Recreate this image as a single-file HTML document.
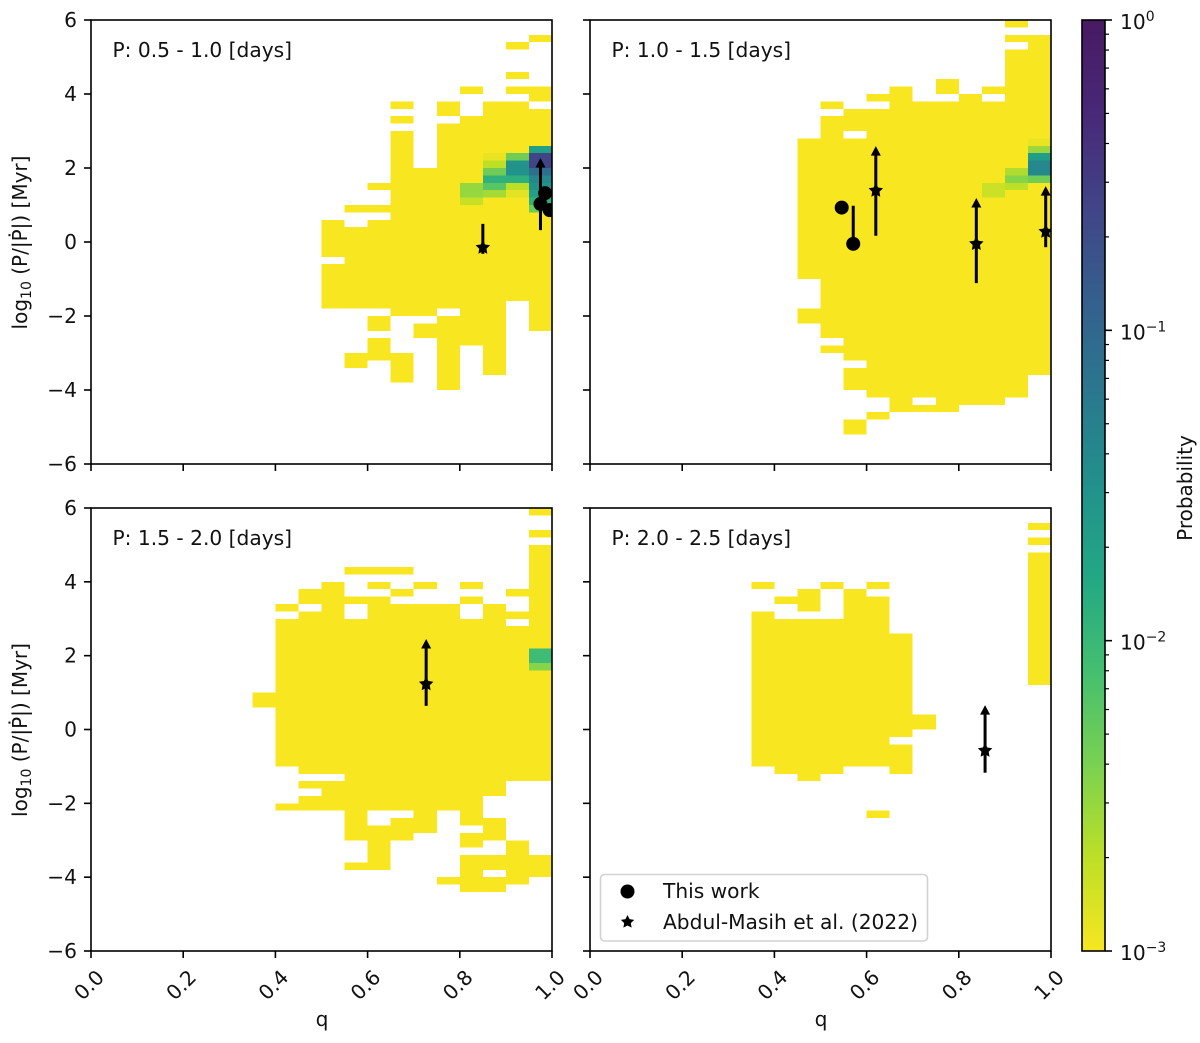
<!DOCTYPE html>
<html>
<head>
<meta charset="utf-8">
<title>Probability maps of period change</title>
<style>
html,body{margin:0;padding:0;background:#fff;}
svg{display:block;font-family:"DejaVu Sans","Liberation Sans",sans-serif;filter:blur(0.35px);}
text{fill:#111;font-size:20.2px;}
</style>
</head>
<body>
<svg id="chart" xmlns="http://www.w3.org/2000/svg" width="1200" height="1043" viewBox="0 0 1200 1043">
<defs>
<clipPath id="clip-0"><rect x="91" y="20" width="461" height="444"/></clipPath>
<clipPath id="clip-1"><rect x="590" y="20" width="461" height="444"/></clipPath>
<clipPath id="clip-2"><rect x="91" y="508" width="461" height="443"/></clipPath>
<clipPath id="clip-3"><rect x="590" y="508" width="461" height="443"/></clipPath>
<linearGradient id="cbar-gradient" x1="0" y1="1" x2="0" y2="0"></linearGradient>
</defs>
<g id="panels"></g>
<g id="colorbar"></g>
<g>
<rect x="600.5" y="874.5" width="327" height="66.5" rx="4" ry="4" fill="#fff" fill-opacity="0.85" stroke="#d2d2d2" stroke-width="1.6"/>
<circle cx="627.5" cy="891.5" r="7" fill="#000"/>
<polygon id="legend-star" fill="#000"/>
<text x="663" y="898">This work</text>
<text x="663" y="929">Abdul-Masih et al. (2022)</text>
</g>
</svg>
<script>
// Panel 1: P 0.5 - 1.0 days. [left q edge, [[log low, log high], ...]]
const panel1Columns = [
  [0.50, [[-1.8,-0.6],[-0.4,0.6]]],
  [0.55, [[-3.4,-3.0],[-1.8,0.4],[0.8,1.0]]],
  [0.60, [[-3.2,-2.6],[-2.4,-2.0],[-1.8,0.6],[0.8,1.0],[1.4,1.6]]],
  [0.65, [[-3.8,-3.0],[-2.0,3.0],[3.2,3.4],[3.6,3.8]]],
  [0.70, [[-2.6,-2.2],[-2.0,2.0]]],
  [0.75, [[-4.0,-2.0],[-1.8,3.2],[3.4,3.8]]],
  [0.80, [[-2.8,3.4],[4.0,4.2]]],
  [0.85, [[-3.6,3.8]]],
  [0.90, [[-1.6,3.8],[4.0,4.2],[4.4,4.6],[5.2,5.4]]],
  [0.95, [[-2.4,3.6],[3.8,4.2],[5.4,5.6]]]
];
// Cells above the colour floor: [left q edge, log low, probability]
const panel1Hot = [
  [0.95,2.4,0.02],[0.95,2.2,0.25],[0.95,2.0,0.25],[0.95,1.8,0.08],[0.95,1.6,0.04],
  [0.95,1.4,0.03],[0.95,1.2,0.02],[0.95,1.0,0.012],[0.95,0.8,0.005],
  [0.90,2.2,0.0046],[0.90,2.0,0.03],[0.90,1.8,0.03],[0.90,1.6,0.0126],[0.90,1.4,0.002],[0.90,1.2,0.0013],
  [0.85,2.2,0.0012],[0.85,2.0,0.002],[0.85,1.8,0.0046],[0.85,1.6,0.012],[0.85,1.4,0.006],[0.85,1.2,0.0026],
  [0.80,1.4,0.003],[0.80,1.2,0.003],[0.80,1.0,0.0018]
];
// Markers: [q, log value, bar low, bar high, has arrow]
const panel1Stars = [[0.85,-0.15,-0.32,0.49,0]];
const panel1Circles = [[0.975,1.03,0.32,2.27,1],[0.985,1.32,null,null,0],[0.995,0.86,null,null,0]];

// Panel 2: P 1.0 - 1.5 days
const panel2Columns = [
  [0.45, [[-2.2,-1.8],[-1.0,2.8]]],
  [0.50, [[-3.0,-2.8],[-2.6,3.4],[3.6,3.8]]],
  [0.55, [[-5.2,-4.8],[-4.0,-3.4],[-3.2,2.8],[3.0,3.6]]],
  [0.60, [[-4.8,-4.6],[-4.2,3.6],[3.8,4.0]]],
  [0.65, [[-4.6,4.2]]],
  [0.70, [[-4.6,-4.4],[-4.2,3.8]]],
  [0.75, [[-4.6,3.8],[4.0,4.4]]],
  [0.80, [[-4.4,4.0]]],
  [0.85, [[-4.4,3.8],[4.0,4.2]]],
  [0.90, [[-4.2,5.2],[5.4,5.6],[5.8,6.0]]],
  [0.95, [[-3.6,5.6]]]
];
const panel2Hot = [
  [0.95,2.6,0.0012],[0.95,2.4,0.0028],[0.95,2.2,0.022],[0.95,2.0,0.04],[0.95,1.8,0.04],[0.95,1.6,0.0045],
  [0.90,1.8,0.0023],[0.90,1.6,0.0035],[0.90,1.4,0.002],
  [0.85,1.4,0.0017],[0.85,1.2,0.0017]
];
const panel2Stars = [[0.62,1.39,0.17,2.59,1],[0.838,-0.05,-1.11,1.19,1],[0.9885,0.28,-0.14,1.51,1]];
const panel2Circles = [[0.546,0.93,null,null,0],[0.571,-0.05,-0.05,0.98,0]];

// Panel 3: P 1.5 - 2.0 days
const panel3Columns = [
  [0.35, [[0.6,1.0]]],
  [0.40, [[-2.2,-2.0],[-1.0,3.0],[3.2,3.4]]],
  [0.45, [[-2.2,-1.8],[-1.6,-1.4],[-1.2,3.2],[3.4,3.8]]],
  [0.50, [[-2.2,-1.4],[-1.2,4.0]]],
  [0.55, [[-3.8,-3.6],[-3.0,3.0],[3.4,3.6],[4.2,4.4]]],
  [0.60, [[-3.8,-2.6],[-2.2,3.6],[3.8,4.0],[4.2,4.4]]],
  [0.65, [[-3.0,-2.4],[-2.2,3.4],[3.6,3.8],[4.2,4.4]]],
  [0.70, [[-2.8,3.4],[3.8,4.0]]],
  [0.75, [[-4.2,-4.0],[-2.2,3.4]]],
  [0.80, [[-4.4,-3.4],[-3.2,-2.8],[-2.6,3.0],[3.4,3.6],[3.8,4.0]]],
  [0.85, [[-4.4,-4.0],[-3.8,-3.4],[-3.0,-2.4],[-1.8,3.4]]],
  [0.90, [[-4.2,-3.0],[-1.4,2.8],[3.0,3.2],[3.6,3.8]]],
  [0.95, [[-4.0,-3.4],[-1.4,5.0],[5.2,5.4],[5.8,6.0]]]
];
const panel3Hot = [[0.95,2.0,0.009],[0.95,1.8,0.009],[0.95,1.6,0.0035]];
const panel3Stars = [[0.727,1.23,0.64,2.45,1]];
const panel3Circles = [];

// Panel 4: P 2.0 - 2.5 days
const panel4Columns = [
  [0.35, [[-1.0,3.2],[3.8,4.0]]],
  [0.40, [[-1.2,3.0],[3.4,3.6]]],
  [0.45, [[-1.4,3.0],[3.2,3.8]]],
  [0.50, [[-1.2,3.0],[3.8,4.0]]],
  [0.55, [[-1.0,3.8]]],
  [0.60, [[-2.4,-2.2],[-1.0,3.6],[3.8,4.0]]],
  [0.65, [[-1.2,-0.4],[-0.2,2.6]]],
  [0.70, [[0.0,0.4]]],
  [0.95, [[1.2,4.8],[5.0,5.2],[5.4,5.6]]]
];
const panel4Hot = [];
const panel4Stars = [[0.857,-0.57,-1.17,0.66,1]];
const panel4Circles = [];

const panelLabels = ["P: 0.5 - 1.0 [days]","P: 1.0 - 1.5 [days]","P: 1.5 - 2.0 [days]","P: 2.0 - 2.5 [days]"];
const xTickValues = [0,0.2,0.4,0.6,0.8,1.0];
const xTickLabels = ["0.0","0.2","0.4","0.6","0.8","1.0"];
const yTickValues = [-6,-4,-2,0,2,4,6];
const yTickLabels = ["\u22126","\u22124","\u22122","0","2","4","6"];
const cbarExponents = [0,-1,-2,-3];
const cbarExponentLabels = ["0","\u22121","\u22122","\u22123"];
const cbarMinorMultipliers = [2,3,4,5,6,7,8,9];

const viridis = ["#481a62","#482878","#414487","#355f8d","#2a788e","#21918c","#22a884","#44bf70","#7ad151","#bddf26","#f8e621"];
const BIN_Q = 0.05, BIN_LOG = 0.2, P_MIN = 1e-3, P_MAX = 1;
const NS = "http://www.w3.org/2000/svg";

const panels = [
  {left:91,right:552,top:20,bottom:464,columns:panel1Columns,hot:panel1Hot,stars:panel1Stars,circles:panel1Circles,xLabels:false,yLabels:true},
  {left:590,right:1051,top:20,bottom:464,columns:panel2Columns,hot:panel2Hot,stars:panel2Stars,circles:panel2Circles,xLabels:false,yLabels:false},
  {left:91,right:552,top:508,bottom:951,columns:panel3Columns,hot:panel3Hot,stars:panel3Stars,circles:panel3Circles,xLabels:true,yLabels:true},
  {left:590,right:1051,top:508,bottom:951,columns:panel4Columns,hot:panel4Hot,stars:panel4Stars,circles:panel4Circles,xLabels:true,yLabels:false}
];

function xScale(p,q){return p.left+(p.right-p.left)*q;}
function yScale(p,v){return p.top+(p.bottom-p.top)*(6-v)/12;}
function hex(c){return [parseInt(c.slice(1,3),16),parseInt(c.slice(3,5),16),parseInt(c.slice(5,7),16)];}
function colorFor(prob){
  const t=Math.min(1,Math.max(0,Math.log10(prob/P_MAX)/Math.log10(P_MIN/P_MAX)));
  const f=t*(viridis.length-1), i=Math.min(viridis.length-2,Math.floor(f)), r=f-i;
  const a=hex(viridis[i]), b=hex(viridis[i+1]);
  return "rgb("+a.map((v,j)=>Math.round(v+(b[j]-v)*r)).join(",")+")";
}
function make(tag,attrs,parent){
  const el=document.createElementNS(NS,tag);
  for(const k in attrs){el.setAttribute(k,attrs[k]);}
  parent.appendChild(el);
  return el;
}
function starPoints(cx,cy,R){
  const pts=[];
  for(let i=0;i<10;i++){
    const r=i%2?R*0.5:R, a=-Math.PI/2+i*Math.PI/5;
    pts.push((cx+r*Math.cos(a)).toFixed(2)+","+(cy+r*Math.sin(a)).toFixed(2));
  }
  return pts.join(" ");
}
function drawBar(p,m,g){
  if(m[2]===null){return;}
  const x=xScale(p,m[0]), y1=yScale(p,m[2]), y2=yScale(p,m[3]);
  const bar=make("line",{x1:x,x2:x,y1:y1,y2:m[4]?y2+5:y2,stroke:"#000","stroke-width":3},g);
  
  
  if(m[4]){
    const head=make("polygon",{points:x+","+y2+" "+(x+5)+","+(y2+9.5)+" "+(x-5)+","+(y2+9.5),fill:"#000"},g);
    
    
  }
}

const root=document.getElementById("panels");
panels.forEach(function(p,idx){
  const g=make("g",{},root);
  
  
  const cells=make("g",{"shape-rendering":"crispEdges"},g);
  
  
  p.columns.forEach(function(col){
    const x0=xScale(p,col[0]), x1=xScale(p,col[0]+BIN_Q);
    col[1].forEach(function(span){
      const yTop=yScale(p,span[1]), yBot=yScale(p,span[0]);
      const r=make("rect",{x:x0,y:yTop,width:x1-x0,height:yBot-yTop,fill:colorFor(P_MIN)},cells);
      
      
    });
  });
  p.hot.forEach(function(h){
    const x0=xScale(p,h[0]), x1=xScale(p,h[0]+BIN_Q);
    const yTop=yScale(p,h[1]+BIN_LOG), yBot=yScale(p,h[1]);
    const r=make("rect",{x:x0,y:yTop,width:x1-x0,height:yBot-yTop,fill:colorFor(h[2])},cells);
    
    
  });
  const marks=make("g",{"clip-path":"url(#clip-"+idx+")"},g);
  
  
  p.stars.forEach(function(m){
    drawBar(p,m,marks);
    const s=make("polygon",{points:starPoints(xScale(p,m[0]),yScale(p,m[1]),7.6),fill:"#000"},marks);
    
    
  });
  p.circles.forEach(function(m){
    drawBar(p,m,marks);
    const c=make("circle",{cx:xScale(p,m[0]),cy:yScale(p,m[1]),r:7,fill:"#000"},marks);
    
    
  });
  const frame=make("rect",{x:p.left,y:p.top,width:p.right-p.left,height:p.bottom-p.top,fill:"none",stroke:"#000","stroke-width":1.6},g);
  
  
  xTickValues.forEach(function(v,i){
    const x=xScale(p,v);
    const t=make("line",{x1:x,x2:x,y1:p.bottom,y2:p.bottom+7,stroke:"#000","stroke-width":1.6},g);
    
    
    if(p.xLabels){
      const cx=x-2, cy=p.bottom+34;
      const l=make("text",{x:cx,y:cy+7,"text-anchor":"middle",transform:"rotate(-45 "+cx+" "+cy+")"},g);
      l.textContent=xTickLabels[i];
      
      
    }
  });
  yTickValues.forEach(function(v,i){
    const y=yScale(p,v);
    const t=make("line",{x1:p.left-7,x2:p.left,y1:y,y2:y,stroke:"#000","stroke-width":1.6},g);
    
    
    if(p.yLabels){
      const l=make("text",{x:p.left-14,y:y+7,"text-anchor":"end"},g);
      l.textContent=yTickLabels[i];
      
      
    }
  });
  const title=make("text",{x:p.left+21.5,y:p.top+37},g);
  title.textContent=panelLabels[idx];
  
  
  if(p.xLabels){
    const xl=make("text",{x:(p.left+p.right)/2+0.5,y:1026,"text-anchor":"middle"},g);
    xl.textContent="q";
    
    
  }
  if(p.yLabels){
    const cy=(p.top+p.bottom)/2+0.5;
    const yl=make("text",{x:27,y:cy,"text-anchor":"middle","font-size":20,style:"font-size:20px",transform:"rotate(-90 27 "+cy+")"},g);
    
    
    const a=make("tspan",{},yl); a.textContent="log";
    const b=make("tspan",{dy:4,"font-size":14},yl); b.textContent="10";
    const c=make("tspan",{dy:-4},yl); c.textContent=" (P/|\u1E56|) [Myr]";
  }
});

// Colour bar
const cb={left:1082,right:1105,top:20,bottom:951};
function cbarY(exp){return cb.top+(cb.bottom-cb.top)*(0-exp)/3;}
const grad=document.getElementById("cbar-gradient");
viridis.slice().reverse().forEach(function(c,i){
  make("stop",{offset:i/(viridis.length-1),"stop-color":c},grad);
});
const cbg=document.getElementById("colorbar");
const cbarRect=make("rect",{x:cb.left,y:cb.top,width:cb.right-cb.left,height:cb.bottom-cb.top,fill:"url(#cbar-gradient)",stroke:"#000","stroke-width":1.6},cbg);


cbarExponents.forEach(function(e,i){
  const y=cbarY(e);
  const t=make("line",{x1:cb.right,x2:cb.right+7,y1:y,y2:y,stroke:"#000","stroke-width":1.6},cbg);
  
  
  const l=make("text",{x:1120,y:y+9},cbg);
  
  
  const a=make("tspan",{},l); a.textContent="10";
  const b=make("tspan",{dy:-8,style:"font-size:14px"},l); b.textContent=cbarExponentLabels[i];
  if(e>-3){
    cbarMinorMultipliers.forEach(function(m){
      const ym=cbarY(e-1+Math.log10(m));
      const mt=make("line",{x1:cb.right,x2:cb.right+4,y1:ym,y2:ym,stroke:"#000","stroke-width":1.2},cbg);
      
      
    });
  }
});
const cbt=make("text",{x:1192,y:488,"text-anchor":"middle",style:"font-size:20px",transform:"rotate(-90 1192 488)"},cbg);
cbt.textContent="Probability";



document.getElementById("legend-star").setAttribute("points",starPoints(627.5,922,7));
</script>
</body>
</html>
